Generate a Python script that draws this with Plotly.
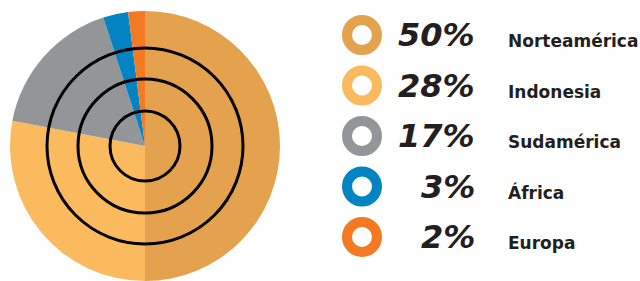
import plotly.graph_objects as go

W, H = 640, 281

regions = ["Norteamérica", "Indonesia", "Sudamérica", "África", "Europa"]
shares = [50, 28, 17, 3, 2]
pct_labels = ["50%", "28%", "17%", "3%", "2%"]
colors = ["#E5A24E", "#FBBA5D", "#939598", "#0284C2", "#F37A22"]

# layout (pixels)
cx, cy, R = 145, 146, 135
ring_radii = [35, 67, 98]
row_y0, row_dy = 35, 50.5
icon_x, pct_x, lab_x = 362, 477, 506

fig = go.Figure()

fig.add_trace(go.Pie(
    values=shares, labels=regions, sort=False, direction="clockwise", rotation=0,
    marker=dict(colors=colors, line=dict(width=0)), textinfo="none",
    hoverinfo="label+percent", showlegend=False,
    domain=dict(x=[(cx - R) / W, (cx + R) / W], y=[(H - cy - R) / H, (H - cy + R) / H]),
))

rows_y = [row_y0 + i * row_dy for i in range(len(regions))]

fig.add_trace(go.Scatter(
    x=[icon_x] * len(regions), y=rows_y, mode="markers",
    marker=dict(size=30, color="white", line=dict(color=colors, width=10)),
    hoverinfo="skip", showlegend=False,
))

for i, (p, lab) in enumerate(zip(pct_labels, regions)):
    fig.add_annotation(x=pct_x, y=rows_y[i], text=p, xanchor="right", yanchor="middle",
                       showarrow=False,
                       font=dict(family="DejaVu Sans", size=32, color="#231F20", weight="bold", style="italic"))
    fig.add_annotation(x=lab_x, y=rows_y[i] + 6, text=lab, xanchor="left", yanchor="middle",
                       showarrow=False,
                       font=dict(family="DejaVu Sans", size=17, color="#231F20", weight="bold"))

for r in ring_radii:
    fig.add_shape(type="circle", xref="x", yref="y", x0=cx - r, x1=cx + r, y0=cy - r, y1=cy + r,
                  line=dict(color="black", width=3), layer="above")

fig.update_layout(
    width=W, height=H, margin=dict(l=0, r=0, t=0, b=0),
    paper_bgcolor="white", plot_bgcolor="rgba(0,0,0,0)",
    xaxis=dict(range=[0, W], visible=False, fixedrange=True),
    yaxis=dict(range=[H, 0], visible=False, fixedrange=True),
)

fig.write_html("out.html", config={"displayModeBar": False},
               post_script="document.body.style.margin='0';document.body.style.overflow='hidden';")
